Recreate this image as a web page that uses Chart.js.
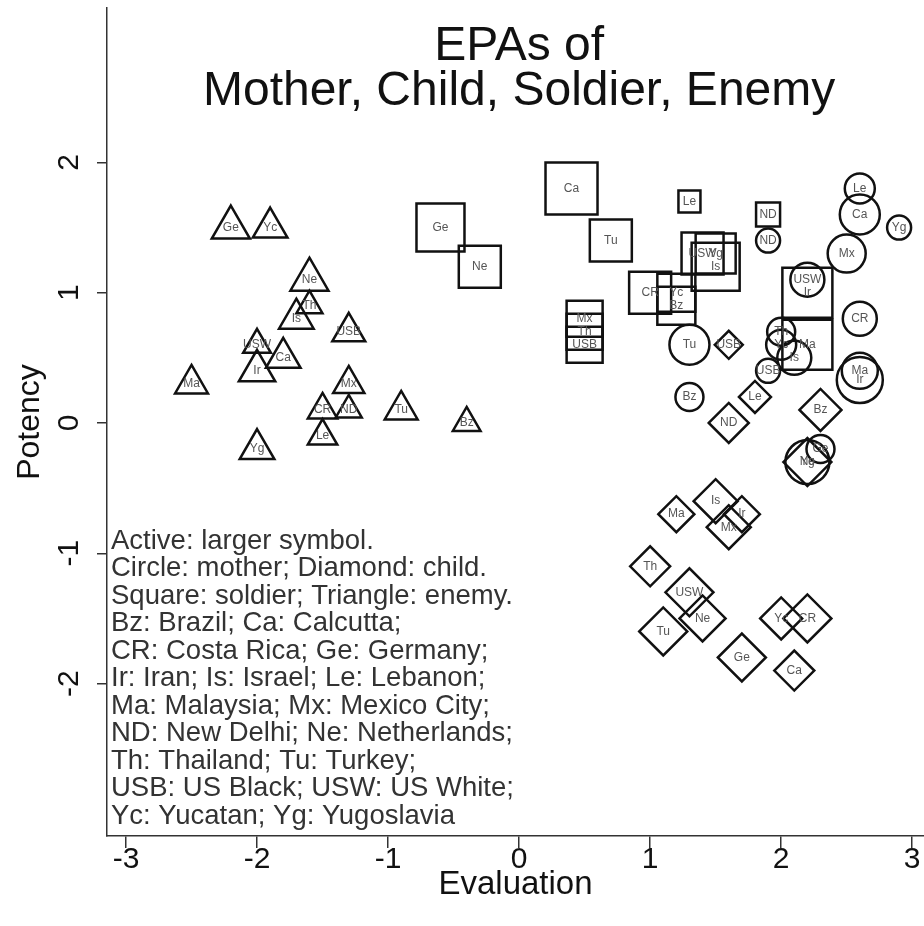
<!DOCTYPE html>
<html>
<head>
<meta charset="utf-8">
<script src="https://cdn.jsdelivr.net/npm/chart.js@4.4.1/dist/chart.umd.min.js"></script>
<style>
  html, body { margin: 0; padding: 0; background: #fff; }
  #wrap { width: 924px; height: 926px; }
</style>
</head>
<body>
<div id="wrap"><canvas id="chart-epa" width="924" height="926"></canvas></div>
<script>
// Mother (circles)
const motherLabels = ['Le', 'Ca', 'Yg', 'Mx', 'ND', 'USW', 'CR', 'Ma', 'Ir', 'Tu', 'Bz', 'USB', 'Th', 'Yc', 'Is', 'Ge', 'Ne'];
const motherEval = [2.6, 2.6, 2.9, 2.5, 1.9, 2.2, 2.6, 2.6, 2.6, 1.3, 1.3, 1.9, 2.0, 2.0, 2.1, 2.3, 2.2];
const motherPot = [1.8, 1.6, 1.5, 1.3, 1.4, 1.1, 0.8, 0.4, 0.33, 0.6, 0.2, 0.4, 0.7, 0.6, 0.5, -0.2, -0.3];
const motherAct = [15, 20, 12, 19, 12, 17, 17, 18, 23, 20, 14, 12, 14, 15, 17, 14, 22];

// Child (diamonds)
const childLabels = ['USB', 'Le', 'ND', 'Bz', 'Yg', 'Ma', 'Is', 'Ir', 'Mx', 'Th', 'USW', 'Ne', 'Tu', 'Ge', 'Yc', 'CR', 'Ca'];
const childEval = [1.6, 1.8, 1.6, 2.3, 2.2, 1.2, 1.5, 1.7, 1.6, 1.0, 1.3, 1.4, 1.1, 1.7, 2.0, 2.2, 2.1];
const childPot = [0.6, 0.2, 0.0, 0.1, -0.3, -0.7, -0.6, -0.7, -0.8, -1.1, -1.3, -1.5, -1.6, -1.8, -1.5, -1.5, -1.9];
const childAct = [14, 16, 20, 21, 24, 18, 22, 18, 22, 20, 24, 23, 24, 24, 21, 24, 20];

// Soldier (squares)
const soldierLabels = ['Ge', 'Ne', 'Ca', 'Tu', 'Le', 'USW', 'Yg', 'Is', 'CR', 'Yc', 'Bz', 'Mx', 'Th', 'USB', 'ND', 'Ir', 'Ma'];
const soldierEval = [-0.6, -0.3, 0.4, 0.7, 1.3, 1.4, 1.5, 1.5, 1.0, 1.2, 1.2, 0.5, 0.5, 0.5, 1.9, 2.2, 2.2];
const soldierPot = [1.5, 1.2, 1.8, 1.4, 1.7, 1.3, 1.3, 1.2, 1.0, 1.0, 0.9, 0.8, 0.7, 0.6, 1.6, 1.0, 0.6];
const soldierAct = [24, 21, 26, 21, 11, 21, 20, 24, 21, 19, 19, 18, 18, 18, 12, 25, 25];

// Enemy (triangles)
const enemyLabels = ['Ge', 'Yc', 'Ne', 'Th', 'Is', 'USB', 'USW', 'Ca', 'Ir', 'Ma', 'Mx', 'CR', 'ND', 'Tu', 'Le', 'Bz', 'Yg'];
const enemyEval = [-2.2, -1.9, -1.6, -1.6, -1.7, -1.3, -2.0, -1.8, -2.0, -2.5, -1.3, -1.5, -1.3, -0.9, -1.5, -0.4, -2.0];
const enemyPot = [1.5, 1.5, 1.1, 0.9, 0.8, 0.7, 0.6, 0.5, 0.4, 0.3, 0.3, 0.1, 0.1, 0.1, -0.1, 0.0, -0.2];
const enemyAct = [22, 20, 22, 15, 20, 19, 16, 20, 21, 19, 18, 17, 15, 19, 17, 16, 20];

const titleLines = ['EPAs of', 'Mother, Child, Soldier, Enemy'];
const xTickValues = [-3, -2, -1, 0, 1, 2, 3];
const yTickValues = [-2, -1, 0, 1, 2];
const noteLines = [
    'Active: larger symbol.',
    'Circle: mother; Diamond: child.',
    'Square: soldier; Triangle: enemy.',
    'Bz: Brazil; Ca: Calcutta;',
    'CR: Costa Rica; Ge: Germany;',
    'Ir: Iran; Is: Israel; Le: Lebanon;',
    'Ma: Malaysia; Mx: Mexico City;',
    'ND: New Delhi; Ne: Netherlands;',
    'Th: Thailand; Tu: Turkey;',
    'USB: US Black; USW: US White;',
    'Yc: Yucatan; Yg: Yugoslavia'
];

const FONT = '"Liberation Sans", Arial, sans-serif';
const INK = '#111';

function puntos(ev, pot) {
    return ev.map((e, i) => ({ x: e, y: pot[i] }));
}

// Square half-side is radius * sqrt(1/2) in Chart.js, so scale squares up
function radioCuadrado(halfSide) {
    return halfSide / Math.SQRT1_2;
}

function serie(label, ev, pot, act, estilo, nombres) {
    return {
        label: label,
        data: puntos(ev, pot),
        nombres: nombres,
        pointStyle: estilo,
        pointRadius: estilo === 'rect' ? act.map(radioCuadrado) : act,
        backgroundColor: 'rgba(0,0,0,0)',
        borderColor: INK,
        borderWidth: 2.5,
        clip: false
    };
}

// Labels inside each marker
const etiquetasPlugin = {
    id: 'etiquetas',
    afterDatasetsDraw(chart) {
        const ctx = chart.ctx;
        ctx.save();
        ctx.font = '12px ' + FONT;
        ctx.fillStyle = '#555';
        ctx.textAlign = 'center';
        ctx.textBaseline = 'middle';
        chart.data.datasets.forEach((ds, i) => {
            chart.getDatasetMeta(i).data.forEach((pt, j) => {
                ctx.fillText(ds.nombres[j], pt.x, pt.y);
            });
        });
        ctx.restore();
    }
};

// Title, rotated y tick labels and the note block
const textosPlugin = {
    id: 'textos',
    afterDraw(chart) {
        const ctx = chart.ctx;
        const yScale = chart.scales.y;
        const xScale = chart.scales.x;
        ctx.save();
        ctx.fillStyle = INK;
        ctx.textAlign = 'center';
        ctx.textBaseline = 'middle';
        ctx.font = '48px ' + FONT;
        const cx = xScale.getPixelForValue(0);
        ctx.fillText(titleLines[0], cx, 47);
        ctx.fillText(titleLines[1], cx, 92);

        ctx.font = '30px ' + FONT;
        yTickValues.forEach(v => {
            const py = yScale.getPixelForValue(v);
            ctx.save();
            ctx.translate(70, py);
            ctx.rotate(-Math.PI / 2);
            ctx.fillText(String(v), 0, 0);
            ctx.restore();
        });

        ctx.font = '27.5px ' + FONT;
        ctx.fillStyle = '#333';
        ctx.textAlign = 'left';
        noteLines.forEach((t, k) => {
            ctx.fillText(t, 111, 541 + k * 27.5);
        });
        ctx.restore();
    }
};

const ctx = document.getElementById('chart-epa').getContext('2d');
const chartEpa = new Chart(ctx, {
    type: 'scatter',
    data: {
        datasets: [
            serie('Mother', motherEval, motherPot, motherAct, 'circle', motherLabels),
            serie('Child', childEval, childPot, childAct, 'rectRot', childLabels),
            serie('Soldier', soldierEval, soldierPot, soldierAct, 'rect', soldierLabels),
            serie('Enemy', enemyEval, enemyPot, enemyAct, 'triangle', enemyLabels)
        ]
    },
    options: {
        responsive: false,
        animation: false,
        layout: { autoPadding: false, padding: { top: 8, left: 0, right: 0, bottom: 25 } },
        scales: {
            x: {
                type: 'linear',
                position: 'bottom',
                min: -3.145,
                max: 3.09,
                afterFit: (s) => { s.height = 65; },
                afterBuildTicks: (s) => { s.ticks = xTickValues.map(v => ({ value: v })); },
                ticks: {
                    padding: -3,
                    color: INK,
                    font: { family: FONT, size: 30, lineHeight: 1.0 }
                },
                grid: { drawOnChartArea: false, drawTicks: true, tickLength: 12, color: '#333', lineWidth: 1.5 },
                border: { display: true, color: '#333', width: 1.5 },
                title: {
                    display: true,
                    text: 'Evaluation',
                    color: INK,
                    font: { family: FONT, size: 33, lineHeight: 1.0 },
                    padding: { top: 0, bottom: 0 }
                }
            },
            y: {
                type: 'linear',
                position: 'left',
                min: -3.17,
                max: 3.185,
                afterFit: (s) => { s.width = 107; },
                afterBuildTicks: (s) => { s.ticks = yTickValues.map(v => ({ value: v })); },
                ticks: { display: false },
                grid: { drawOnChartArea: false, drawTicks: true, tickLength: 10, color: '#333', lineWidth: 1.5 },
                border: { display: true, color: '#333', width: 1.5 },
                title: {
                    display: true,
                    text: 'Potency',
                    color: INK,
                    font: { family: FONT, size: 32, lineHeight: 1.0 },
                    padding: { top: 14, bottom: 0 }
                }
            }
        },
        plugins: {
            legend: { display: false },
            tooltip: { enabled: false },
            title: { display: false }
        }
    },
    plugins: [etiquetasPlugin, textosPlugin]
});
</script>
</body>
</html>
